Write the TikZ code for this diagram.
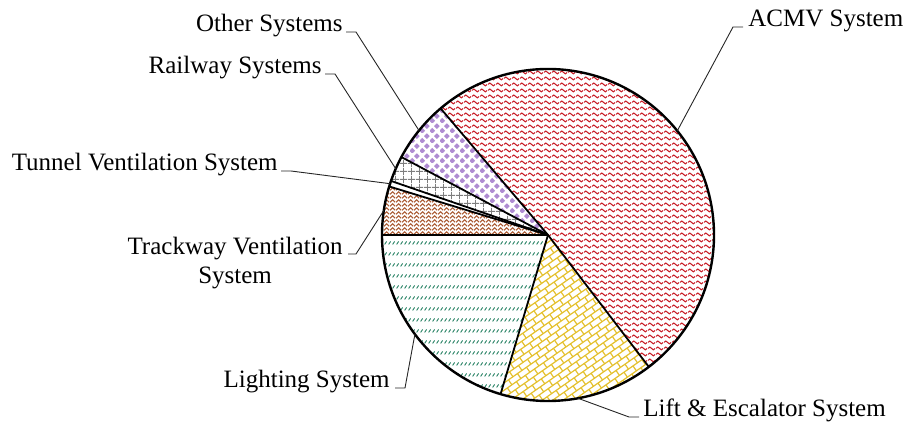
\documentclass[tikz,border=0pt]{standalone}
\usepackage{fontspec}
\setmainfont{Liberation Serif}
\usepackage{xcolor}
\usepackage{tikz}
\usetikzlibrary{calc}
\usetikzlibrary{patterns}
\usetikzlibrary{positioning}

\definecolor{acmvred}{RGB}{200,30,40}
\definecolor{liftyellow}{RGB}{228,192,45}
\definecolor{lightinggreen}{RGB}{40,130,100}
\definecolor{trackbrown}{RGB}{170,90,50}
\definecolor{railgray}{RGB}{125,125,125}
\definecolor{otherpurple}{RGB}{175,140,210}

% fill patterns of the slices
\pgfdeclarepatternformonly{wavyrows}{\pgfpointorigin}{\pgfpoint{4pt}{3pt}}{\pgfpoint{4pt}{3pt}}{%
    \pgfsetlinewidth{0.6pt}
    \pgfpathmoveto{\pgfpoint{0pt}{1.5pt}}
    \pgfpathcurveto{\pgfpoint{0.7pt}{2.6pt}}{\pgfpoint{1.3pt}{2.6pt}}{\pgfpoint{2pt}{1.5pt}}
    \pgfpathcurveto{\pgfpoint{2.7pt}{0.4pt}}{\pgfpoint{3.3pt}{0.4pt}}{\pgfpoint{4pt}{1.5pt}}
    \pgfusepath{stroke}}
\pgfdeclarepatternformonly{slashrows}{\pgfpointorigin}{\pgfpoint{2pt}{5.5pt}}{\pgfpoint{2pt}{5.5pt}}{%
    \pgfsetlinewidth{0.55pt}
    \pgfpathmoveto{\pgfpoint{0.4pt}{1.4pt}}
    \pgfpathlineto{\pgfpoint{1.6pt}{3pt}}
    \pgfusepath{stroke}}
\pgfdeclarepatternformonly{weaverows}{\pgfpointorigin}{\pgfpoint{3pt}{2.2pt}}{\pgfpoint{3pt}{2.2pt}}{%
    \pgfsetlinewidth{0.6pt}
    \pgfpathmoveto{\pgfpoint{0pt}{0.4pt}}
    \pgfpathlineto{\pgfpoint{1.5pt}{1.8pt}}
    \pgfpathlineto{\pgfpoint{3pt}{0.4pt}}
    \pgfusepath{stroke}}
\pgfdeclarepatternformonly{gridrows}{\pgfpointorigin}{\pgfpoint{4pt}{4pt}}{\pgfpoint{4pt}{4pt}}{%
    \pgfsetlinewidth{0.45pt}
    \pgfpathmoveto{\pgfpoint{0pt}{2pt}}\pgfpathlineto{\pgfpoint{4pt}{2pt}}
    \pgfpathmoveto{\pgfpoint{2pt}{0pt}}\pgfpathlineto{\pgfpoint{2pt}{4pt}}
    \pgfusepath{stroke}}
\pgfdeclarepatternformonly{diamondrows}{\pgfpointorigin}{\pgfpoint{5pt}{5pt}}{\pgfpoint{5pt}{5pt}}{%
    \pgfpathmoveto{\pgfpoint{-0.3pt}{1.25pt}}\pgfpathlineto{\pgfpoint{1.25pt}{2.8pt}}
    \pgfpathlineto{\pgfpoint{2.8pt}{1.25pt}}\pgfpathlineto{\pgfpoint{1.25pt}{-0.3pt}}\pgfpathclose
    \pgfpathmoveto{\pgfpoint{2.2pt}{3.75pt}}\pgfpathlineto{\pgfpoint{3.75pt}{5.3pt}}
    \pgfpathlineto{\pgfpoint{5.3pt}{3.75pt}}\pgfpathlineto{\pgfpoint{3.75pt}{2.2pt}}\pgfpathclose
    \pgfusepath{fill}}

\begin{document}
\begin{tikzpicture}[x=0.5pt,y=0.5pt]
    \tikzstyle{every node}=[inner sep=0pt,font={\fontsize{12.5}{14.5}\selectfont}]
    \tikzstyle{leader}=[draw=black!85,line width=0.45pt]
    \tikzstyle{rim}=[draw=black,line width=1.2pt]
    \tikzstyle{sep}=[draw=black,line width=0.9pt]
    \tikzstyle{brick}=[draw=liftyellow,line width=0.6pt,line join=round]

    \useasboundingbox (0,0) rectangle (906,423);
    \coordinate (c) at (548,188);

    \newcommand{\slicepart}[4]{%
      \fill[pattern=#3,pattern color=#4] (c) -- ++(#1:166) arc (#1:#2:166) -- cycle ;}

    \slicepart{-52.6}{130.3}{wavyrows}{acmvred}
    \slicepart{130.3}{152}{diamondrows}{otherpurple}
    \slicepart{152}{161}{gridrows}{railgray}
    \slicepart{163}{180}{weaverows}{trackbrown}
    \slicepart{180}{253.4}{slashrows}{lightinggreen}

    % tilted bricks of the lift slice
    \begin{scope}
      \clip (c) -- ++(253.4:166) arc (253.4:307.4:166) -- cycle ;
      \begin{scope}[shift={(c)},rotate=35]
        \foreach \j in {-30,...,5}{%
          \draw[brick] (-180,\j*6) -- (60,\j*6) ;
          \foreach \i in {-17,...,6}{%
            \draw[brick] ({\i*11+mod(\j+40,2)*5.5},\j*6) -- ++(0,6) ;}}
      \end{scope}
    \end{scope}

    \foreach \a in {-52.6,130.3,152,161,163,180,253.4}{%
      \draw[sep] (c) -- ++(\a:166) ;}
    \draw[rim] (c) circle (166) ;

    % leader end points on the rim
    \foreach \n/\a in {acmv/38.85,other/141,rail/156.5,tunnel/162,track/171.5,light/216.7,lift/280.4}{%
      \path (c) ++(\a:166) coordinate (p\n) ;}

    \node[anchor=base east] (other) at (343,391) {Other Systems} ;
    \node[anchor=base east] (rail) at (322,349) {Railway Systems} ;
    \node[anchor=base east] (tunnel) at (278,252) {Tunnel Ventilation System} ;
    \node[anchor=north east,align=center] (track) at (343,186) {Trackway Ventilation\\System} ;
    \node[anchor=base east] (light) at (390,35) {Lighting System} ;
    \node[anchor=base west] (lift) at (643,6) {Lift \& Escalator System} ;
    \node[anchor=base west] (acmv) at (748,396) {ACMV System} ;

    \draw[leader] ([xshift=1.5pt]other.base east) -- ++(5pt,0) -- (pother) ;
    \draw[leader] ([xshift=1.5pt]rail.base east) -- ++(5pt,0) -- (prail) ;
    \draw[leader] ([xshift=1.5pt]tunnel.base east) -- ++(5pt,0) -- (ptunnel) ;
    \draw[leader] ([xshift=2.5pt,yshift=-8.5pt]track.north east) -- ++(4pt,0) -- (ptrack) ;
    \draw[leader] ([xshift=2.5pt]light.base east) -- ++(5pt,0) -- (plight) ;
    \draw[leader] ([xshift=-2pt]lift.base west) -- ++(-5pt,0) -- (plift) ;
    \draw[leader] ([xshift=-2.5pt]acmv.base west) -- ++(-5pt,0) -- (pacmv) ;

\end{tikzpicture}
\end{document}
